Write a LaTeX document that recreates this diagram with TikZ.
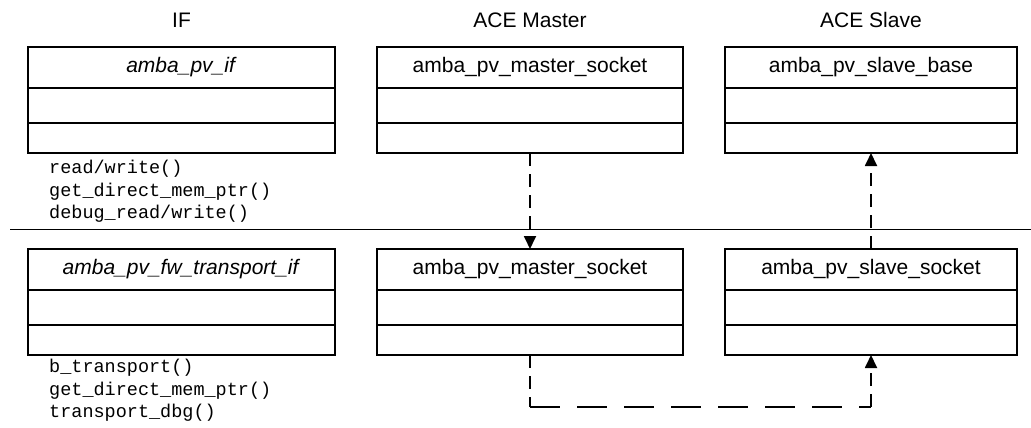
\documentclass[tikz,border=0pt]{standalone}
\usepackage{fontspec}
\setmainfont{Liberation Sans}
\setmonofont{Liberation Mono}
\usetikzlibrary{arrows.meta,positioning,calc}
\tikzset{>={Triangle[length=13pt,width=12pt]}}
\tikzstyle{cls}=[rectangle,draw=black,line width=1.8pt,outer sep=0pt,inner sep=0pt,font=\fontsize{21}{25}\selectfont]
\tikzstyle{clshead}=[cls,minimum height=41pt]
\tikzstyle{clsattr}=[cls,minimum height=35pt]
\tikzstyle{clsop}=[cls,minimum height=30pt]
\tikzstyle{colhead}=[inner sep=0pt,font=\fontsize{21}{25}\selectfont]
\tikzstyle{ops}=[align=left,anchor=west,inner sep=0pt,font=\ttfamily\fontsize{18.5}{22.5}\selectfont]
\tikzstyle{dep}=[line width=1.8pt,dash pattern=on 13pt off 8pt]
\tikzstyle{deph}=[line width=1.8pt,dash pattern=on 30pt off 17pt]

\begin{document}
\begin{tikzpicture}[x=1pt,y=-1pt]
	\useasboundingbox (0,0) rectangle (1031,428);
	\def \toprow {67.5};
	\def \botrow {269.5};
	\def \drop {52};

	\foreach \n/\cx/\hd in {if/181.5/IF, m/530/ACE Master, s/871/ACE Slave} {
		\node[colhead] (hd\n) at (\cx,20) {\hd};
	};

	\foreach \n/\cx/\w/\y/\lbl in {if1/181.5/307/\toprow/\textit{amba\_pv\_if},
		m1/530/306/\toprow/amba\_pv\_master\_socket,
		s1/871/292/\toprow/amba\_pv\_slave\_base,
		if2/181.5/307/\botrow/\textit{amba\_pv\_fw\_transport\_if},
		m2/530/306/\botrow/amba\_pv\_master\_socket,
		s2/871/292/\botrow/amba\_pv\_slave\_socket} {
		\node[clshead,minimum width=\w pt] (\n) at (\cx,\y) {\lbl};
		\node[clsattr,minimum width=\w pt,below=0pt of \n] (\n-a) {};
		\node[clsop,minimum width=\w pt,below=0pt of \n-a] (\n-o) {};
	};

	\node[ops] (ops1) at (49,191.5) {read/write()\\get\_direct\_mem\_ptr()\\debug\_read/write()};
	\node[ops] (ops2) at (49,390.5) {b\_transport()\\get\_direct\_mem\_ptr()\\transport\_dbg()};

	\draw[line width=1.2pt] (10,229.5) -- (1031,229.5);

	\draw[dep,->] (m1-o.south) -- (m2.north);
	\draw[dep,->] (s2.north) -- (s1-o.south);

	\coordinate (bl) at ($(m2-o.south)+(0,\drop)$);
	\coordinate (br) at ($(s2-o.south)+(0,\drop)$);
	\draw[dep] (m2-o.south) -- (bl);
	\draw[deph] (bl) -- (br);
	\draw[dep,->] (br) -- (s2-o.south);
\end{tikzpicture}
\end{document}
